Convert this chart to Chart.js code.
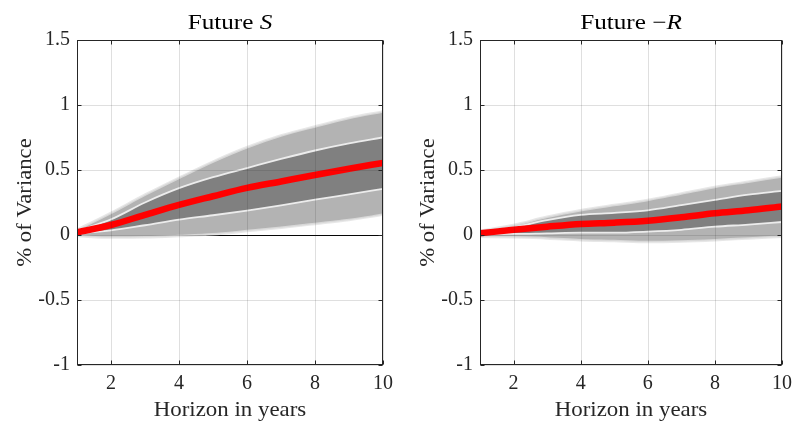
<!DOCTYPE html>
<html>
<head>
<meta charset="utf-8">
<script src="https://cdn.jsdelivr.net/npm/chart.js@4.4.0/dist/chart.umd.min.js"></script>
<style>
  html, body { margin: 0; padding: 0; background: #ffffff; }
  #wrap { position: relative; width: 799px; height: 421px; overflow: hidden; background: #fff; }
  .cell { position: absolute; top: 0; height: 421px; }
</style>
</head>
<body>
<div id="wrap">
  <div class="cell" style="left:0px;width:400px;"><canvas id="c1" width="400" height="421"></canvas></div>
  <div class="cell" style="left:403px;width:396px;"><canvas id="c2" width="396" height="421"></canvas></div>
</div>
<script>
// ---------------- data ----------------
const years = [1, 2, 3, 4, 5, 6, 7, 8, 9, 10];
const xTickValues = [2, 4, 6, 8, 10];
const yTickValues = [-1, -0.5, 0, 0.5, 1, 1.5];
const yTickLabels = ['-1', '-0.5', '0', '0.5', '1', '1.5'];

// Future S
const sOuterLow  = [-0.008, -0.02, -0.018, -0.008, 0.005, 0.03, 0.056, 0.085, 0.115, 0.155];
const sInnerLow  = [0.013, 0.035, 0.075, 0.118, 0.152, 0.188, 0.228, 0.272, 0.313, 0.355];
const sMedian    = [0.02, 0.077, 0.155, 0.232, 0.298, 0.362, 0.412, 0.462, 0.51, 0.555];
const sInnerHigh = [0.03, 0.12, 0.25, 0.36, 0.445, 0.515, 0.585, 0.65, 0.705, 0.75];
const sOuterHigh = [0.04, 0.17, 0.31, 0.44, 0.565, 0.675, 0.765, 0.835, 0.90, 0.95];

// Future -R
const rOuterLow  = [-0.013, -0.018, -0.026, -0.04, -0.046, -0.054, -0.05, -0.04, -0.026, -0.013];
const rInnerLow  = [0.008, 0.008, 0.013, 0.018, 0.018, 0.026, 0.04, 0.064, 0.08, 0.10];
const rMedian    = [0.013, 0.04, 0.064, 0.085, 0.095, 0.11, 0.136, 0.167, 0.19, 0.22];
const rInnerHigh = [0.023, 0.06, 0.115, 0.155, 0.17, 0.19, 0.23, 0.27, 0.31, 0.34];
const rOuterHigh = [0.033, 0.077, 0.14, 0.19, 0.23, 0.27, 0.32, 0.37, 0.41, 0.45];

// ---------------- style ----------------
const FONT = '"Liberation Serif", "Times New Roman", serif';
const AX = '#262626';
const OUTER_FILL = '#b3b3b3';
const INNER_FILL = '#808080';
const EDGE_INNER = 'rgba(240,240,240,0.95)';
const EDGE_OUTER = 'rgba(225,225,225,0.8)';

function pts(arr) { return years.map((x, i) => ({ x: x, y: arr[i] })); }

// draw text horizontally stretched (Computer-Modern-like width)
function stretchText(ctx, parts, cx, baseline, stretch) {
  let total = 0;
  parts.forEach(p => { ctx.font = p.font; p.w = ctx.measureText(p.text).width; total += p.w; });
  ctx.save();
  ctx.translate(cx, baseline);
  ctx.scale(stretch, 1);
  ctx.textAlign = 'left';
  ctx.textBaseline = 'alphabetic';
  let sx = -total / 2;
  parts.forEach(p => { ctx.font = p.font; ctx.fillText(p.text, sx, 0); sx += p.w; });
  ctx.restore();
}

const frame = {
  id: 'frame',
  beforeDatasetsDraw(chart) {
    const { ctx, chartArea: a, scales: { y } } = chart;
    ctx.save();
    ctx.strokeStyle = '#000';
    ctx.lineWidth = 1;
    const y0 = Math.round(y.getPixelForValue(0)) + 0.5;
    ctx.beginPath(); ctx.moveTo(a.left, y0); ctx.lineTo(a.right, y0); ctx.stroke();
    ctx.restore();
  },
  afterDatasetsDraw(chart, args, opts) {
    const { ctx, chartArea: a, scales: { x, y } } = chart;
    ctx.save();
    // grid on top (MATLAB-like)
    ctx.strokeStyle = 'rgba(38,38,38,0.15)';
    ctx.lineWidth = 1;
    ctx.beginPath();
    xTickValues.forEach(v => {
      const px = Math.round(x.getPixelForValue(v)) + 0.5;
      ctx.moveTo(px, a.top); ctx.lineTo(px, a.bottom);
    });
    yTickValues.forEach(v => {
      const py = Math.round(y.getPixelForValue(v)) + 0.5;
      ctx.moveTo(a.left, py); ctx.lineTo(a.right, py);
    });
    ctx.stroke();
    // box
    ctx.strokeStyle = AX;
    ctx.lineWidth = 1;
    const L = Math.round(a.left) + 0.5, R = Math.round(a.right) - 0.5;
    const T = Math.round(a.top) + 0.5, B = Math.round(a.bottom) - 0.5;
    ctx.strokeRect(L, T, R - L, B - T);
    // inward ticks
    const tl = 4;
    ctx.beginPath();
    xTickValues.forEach(v => {
      const px = Math.round(x.getPixelForValue(v)) + 0.5;
      ctx.moveTo(px, B); ctx.lineTo(px, B - tl);
      ctx.moveTo(px, T); ctx.lineTo(px, T + tl);
    });
    yTickValues.forEach(v => {
      const py = Math.round(y.getPixelForValue(v)) + 0.5;
      ctx.moveTo(L, py); ctx.lineTo(L + tl, py);
      ctx.moveTo(R, py); ctx.lineTo(R - tl, py);
    });
    ctx.stroke();
    const cx = (a.left + a.right) / 2;
    // title
    ctx.fillStyle = '#000';
    stretchText(ctx, [
      { text: opts.titleMain, font: '21px ' + FONT },
      { text: opts.titleVar, font: 'italic 21px ' + FONT }
    ], cx, 29, 1.2);
    // x title
    ctx.fillStyle = AX;
    stretchText(ctx, [{ text: 'Horizon in years', font: '21px ' + FONT }], cx, 416, 1.09);
    // y title
    ctx.save();
    ctx.translate(31, (a.top + a.bottom) / 2);
    ctx.rotate(-Math.PI / 2);
    stretchText(ctx, [{ text: '% of Variance', font: '21px ' + FONT }], 0, 0, 1.08);
    ctx.restore();
    ctx.restore();
  }
};

function makeChart(id, padRight, lo, il, med, ih, hi, titleMain, titleVar) {
  const common = { pointRadius: 0, cubicInterpolationMode: 'monotone' };
  const edgeOuter = Object.assign({ borderColor: EDGE_OUTER, borderWidth: 2.5 }, common);
  const edgeInner = Object.assign({ borderColor: EDGE_INNER, borderWidth: 1.8 }, common);
  return new Chart(document.getElementById(id), {
    type: 'line',
    data: {
      datasets: [
        Object.assign({ label: 'outer low', data: pts(lo), fill: false, order: 5 }, edgeOuter),
        Object.assign({ label: 'outer high', data: pts(hi), fill: 0, backgroundColor: OUTER_FILL, order: 6 }, edgeOuter),
        Object.assign({ label: 'inner low', data: pts(il), fill: false, order: 3 }, edgeInner),
        Object.assign({ label: 'inner high', data: pts(ih), fill: 2, backgroundColor: INNER_FILL, order: 4 }, edgeInner),
        Object.assign({ label: 'median', data: pts(med), fill: false, borderColor: '#ff0000', borderWidth: 6.5, order: 1, borderCapStyle: 'butt' }, common)
      ]
    },
    options: {
      responsive: false,
      animation: false,
      devicePixelRatio: 1,
      layout: { padding: { top: 40, right: padRight, left: 0, bottom: 0 } },
      plugins: {
        legend: { display: false },
        tooltip: { enabled: false },
        frame: { titleMain: titleMain, titleVar: titleVar }
      },
      scales: {
        x: {
          type: 'linear', min: 1, max: 10,
          afterBuildTicks: s => { s.ticks = xTickValues.map(v => ({ value: v })); },
          afterFit: s => { s.height = 56; },
          grid: { display: false, drawTicks: false },
          border: { display: false },
          ticks: { color: AX, font: { family: FONT, size: 20 }, padding: 7, maxRotation: 0, autoSkip: false }
        },
        y: {
          type: 'linear', min: -1, max: 1.5,
          afterBuildTicks: s => { s.ticks = yTickValues.map(v => ({ value: v })); },
          afterFit: s => { s.width = 77; },
          grid: { display: false, drawTicks: false },
          border: { display: false },
          ticks: {
            color: AX, font: { family: FONT, size: 20 }, padding: 7, autoSkip: false,
            callback: v => { const i = yTickValues.indexOf(v); return i >= 0 ? yTickLabels[i] : ''; }
          }
        }
      }
    },
    plugins: [frame]
  });
}

makeChart('c1', 16, sOuterLow, sInnerLow, sMedian, sInnerHigh, sOuterHigh, 'Future ', 'S');
makeChart('c2', 12, rOuterLow, rInnerLow, rMedian, rInnerHigh, rOuterHigh, 'Future \u2212', 'R');
</script>
</body>
</html>
